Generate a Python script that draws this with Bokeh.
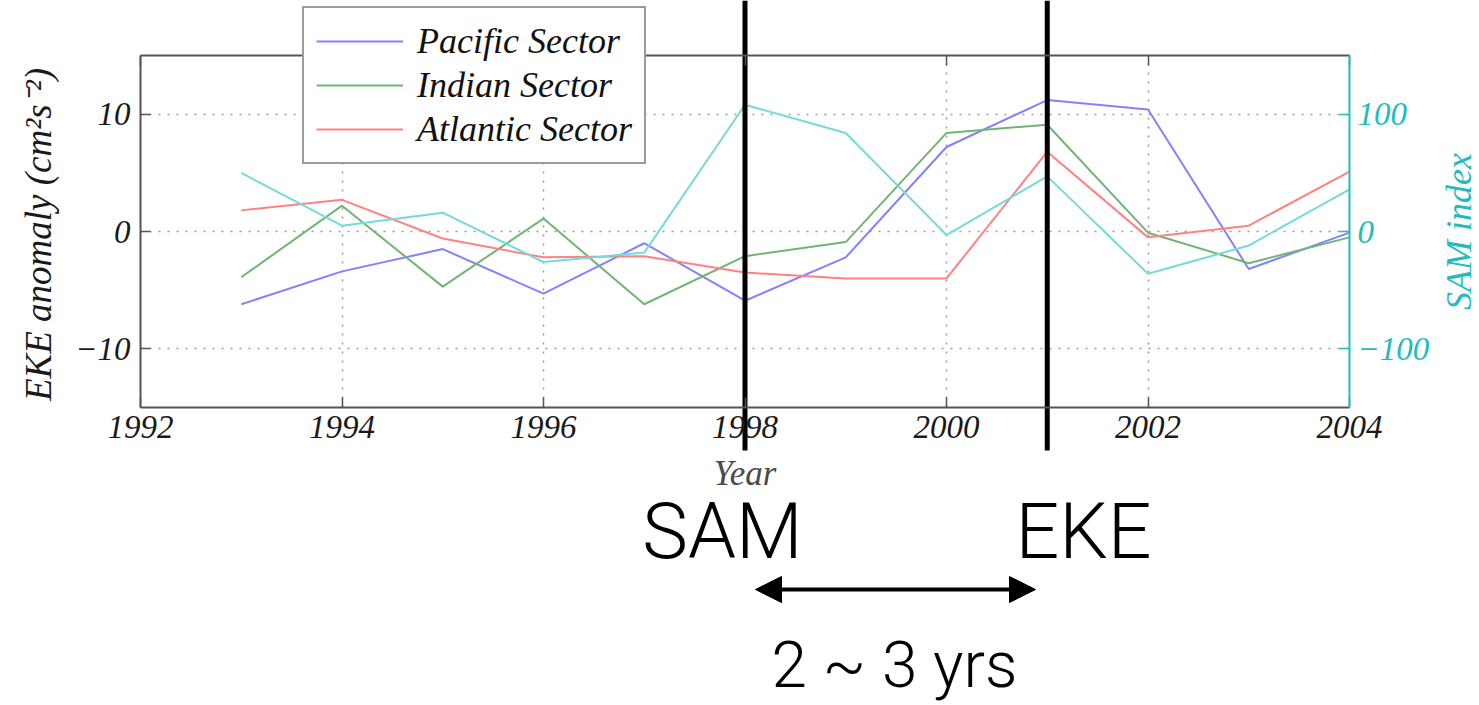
import math
from bokeh.plotting import figure
from bokeh.models import (Range1d, LinearAxis, FixedTicker, Legend, LegendItem,
                          Label, Arrow, NormalHead, Grid)
from bokeh.embed import file_html
from bokeh.resources import INLINE

# Annual EKE anomalies by Southern Ocean sector, and the SAM index
years = [1993, 1994, 1995, 1996, 1997, 1998, 1999, 2000, 2001, 2002, 2003, 2004]
pacific = [-6.2, -3.4, -1.5, -5.3, -1.0, -5.9, -2.2, 7.2, 11.2, 10.4, -3.2, -0.1]
indian = [-3.9, 2.2, -4.7, 1.1, -6.2, -2.1, -0.9, 8.4, 9.1, -0.1, -2.7, -0.5]
atlantic = [1.8, 2.7, -0.6, -2.2, -2.1, -3.5, -4.0, -4.0, 6.8, -0.5, 0.5, 5.1]
sam_index = [50, 5, 16, -26, -18, 108, 84, -3, 47, -36, -12, 36]

x_ticks = [1992, 1994, 1996, 1998, 2000, 2002, 2004]
eke_ticks = [-10, 0, 10]
sam_ticks = [-100, 0, 100]

# years of the SAM peak and of the later EKE peak
lag_years = [1998, 2001]

# axes box limits
X_LO, X_HI = 1992, 2004
EKE_LO, EKE_HI = -15, 15
SAM_LO, SAM_HI = -150, 150

# The plotting frame covers the whole page, and the axes box is drawn inside it
# with fixed-location axes, so that markers and notes can sit outside the box.
W, H = 1479, 705
BOX_L, BOX_R, BOX_T, BOX_B = 140, 1349, 55, 407     # page pixels of the axes box
px_x = (BOX_R - BOX_L) / (X_HI - X_LO)
px_y = (BOX_B - BOX_T) / (EKE_HI - EKE_LO)
x_left = X_LO - BOX_L / px_x
x_right = X_HI + (W - BOX_R) / px_x
y_top = EKE_HI + BOX_T / px_y
y_bottom = EKE_LO - (H - BOX_B) / px_y

SERIF = "Liberation Serif"
TEAL = "#22bcbc"
BOX = "#555555"
INK = "#1a1a1a"

p = figure(width=W, height=H, output_backend="svg", toolbar_location=None,
           x_range=Range1d(x_left, x_right), y_range=Range1d(y_bottom, y_top),
           min_border=0)
p.background_fill_color = "white"
p.border_fill_color = "white"
p.outline_line_color = None

sam_scale = SAM_HI / EKE_HI
p.extra_y_ranges = {"sam": Range1d(y_bottom * sam_scale, y_top * sam_scale)}

# dotted grid inside the box
GRID = dict(line_color="#9a9a9a", line_dash="2 7", line_width=1.5)
p.xgrid.ticker = FixedTicker(ticks=x_ticks[1:-1])
p.ygrid.ticker = FixedTicker(ticks=eke_ticks)
if "cross_bounds" in Grid.properties():
    for g in (p.xgrid, p.ygrid):
        g.grid_line_color = GRID["line_color"]
        g.grid_line_dash = GRID["line_dash"]
        g.grid_line_width = GRID["line_width"]
    p.xgrid.cross_bounds = (EKE_LO, EKE_HI)
    p.ygrid.cross_bounds = (X_LO, X_HI)
else:
    p.xgrid.visible = False
    p.ygrid.visible = False
    p.segment(x0=x_ticks[1:-1], y0=EKE_LO, x1=x_ticks[1:-1], y1=EKE_HI, **GRID)
    p.segment(x0=X_LO, y0=eke_ticks, x1=X_HI, y1=eke_ticks, **GRID)


def style_axis(ax, color):
    ax.major_tick_in = 10
    ax.major_tick_out = 0
    ax.minor_tick_line_color = None
    ax.major_tick_line_color = color
    ax.major_tick_line_width = 1.5
    ax.axis_line_color = color
    ax.axis_line_width = 2
    ax.major_label_text_font = SERIF
    ax.major_label_text_font_style = "italic"
    ax.major_label_text_font_size = "33px"
    ax.major_label_text_color = INK


xa = p.xaxis[0]
style_axis(xa, BOX)
xa.fixed_location = EKE_LO
xa.bounds = (X_LO, X_HI)
xa.ticker = FixedTicker(ticks=x_ticks)
xa.major_label_standoff = 8

ya = p.yaxis[0]
style_axis(ya, BOX)
ya.fixed_location = X_LO
ya.bounds = (EKE_LO, EKE_HI)
ya.ticker = FixedTicker(ticks=eke_ticks)
ya.major_label_overrides = {-10: "\u221210", 0: "0", 10: "10"}
ya.major_label_standoff = 10

# upper edge of the box, with inward ticks
top = LinearAxis(ticker=FixedTicker(ticks=x_ticks), fixed_location=EKE_HI,
                 bounds=(X_LO, X_HI),
                 major_label_overrides={t: "" for t in x_ticks})
style_axis(top, BOX)
p.add_layout(top, "above")

# SAM index axis along the right edge of the box
sam_axis = LinearAxis(y_range_name="sam", ticker=FixedTicker(ticks=sam_ticks),
                      fixed_location=X_HI, bounds=(SAM_LO, SAM_HI))
style_axis(sam_axis, TEAL)
sam_axis.major_label_overrides = {-100: "\u2212100", 0: "0", 100: "100"}
sam_axis.major_label_text_color = TEAL
sam_axis.major_label_standoff = 8
p.add_layout(sam_axis, "right")

# axis titles
box_mid_y = H - (BOX_T + BOX_B) / 2
p.add_layout(Label(x=38, y=box_mid_y - 3, x_units="screen", y_units="screen",
                   text="EKE anomaly (cm\u00b2s\u207b\u00b2)", angle=math.pi / 2,
                   text_align="center", text_baseline="middle",
                   text_font=SERIF, text_font_style="italic",
                   text_font_size="37px", text_color=INK))
p.add_layout(Label(x=1458, y=box_mid_y, x_units="screen", y_units="screen",
                   text="SAM index", angle=math.pi / 2,
                   text_align="center", text_baseline="middle",
                   text_font=SERIF, text_font_style="italic",
                   text_font_size="36px", text_color=TEAL))
p.add_layout(Label(x=(BOX_L + BOX_R) / 2, y=H - 473, x_units="screen", y_units="screen",
                   text="Year", text_align="center", text_baseline="middle",
                   text_font=SERIF, text_font_style="italic",
                   text_font_size="35px", text_color="#4a4a4a"))

# series
r_pac = p.line(years, pacific, line_color="#8282ff", line_width=2)
r_ind = p.line(years, indian, line_color="#72b472", line_width=2)
r_atl = p.line(years, atlantic, line_color="#ff8282", line_width=2)
p.line(years, sam_index, y_range_name="sam", line_color="#74dada", line_width=2)

legend = Legend(items=[LegendItem(label="Pacific Sector", renderers=[r_pac]),
                       LegendItem(label="Indian Sector", renderers=[r_ind]),
                       LegendItem(label="Atlantic Sector", renderers=[r_atl])],
                location=(302, H - 164), orientation="vertical",
                label_text_font=SERIF, label_text_font_style="italic",
                label_text_font_size="36px", label_text_color="#111111",
                label_height=40, glyph_width=87, glyph_height=40,
                label_standoff=14, spacing=2, padding=12, margin=0,
                border_line_color="#3a3a3a", border_line_width=2.5,
                background_fill_color="white", background_fill_alpha=1)
p.add_layout(legend, "center")

# vertical markers at the SAM peak and the EKE peak
p.segment(x0=lag_years, y0=y_top, x1=lag_years, y1=EKE_LO - 43 / px_y,
          line_color="black", line_width=5)

# lag annotation below the chart
NOTE_FONT = "Roboto Light"
for txt, sx, sy, size in (("SAM", 722, H - 531, "77px"), ("EKE", 1083, H - 531, "77px"),
                          ("2 ~ 3 yrs", 894, H - 665, "64px")):
    p.add_layout(Label(x=sx, y=sy, x_units="screen", y_units="screen", text=txt,
                       text_align="center", text_baseline="middle",
                       text_font=NOTE_FONT, text_font_size=size,
                       text_color="black"))

p.add_layout(Arrow(x_start=755, y_start=H - 589, x_end=1035, y_end=H - 589,
                   start_units="screen", end_units="screen", line_width=4,
                   line_color="black",
                   start=NormalHead(size=26, fill_color="black", line_color="black"),
                   end=NormalHead(size=26, fill_color="black", line_color="black")))

open("out.html", "w").write(file_html(p, INLINE))
